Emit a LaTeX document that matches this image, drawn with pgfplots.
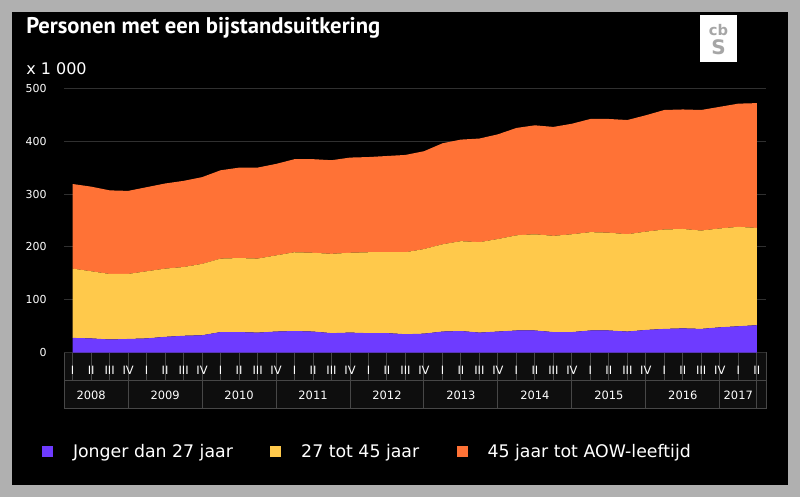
\documentclass[border=0pt]{standalone}
\usepackage{fontspec}
\setmainfont{DejaVu Sans}
\newfontfamily\titlefont{PT Sans}
\usepackage{pgfplots}
\usepackage{pgfplotstable}
\pgfplotsset{compat=1.18}
\definecolor{cpurple}{HTML}{6E3BFF}
\definecolor{cyellow}{HTML}{FFC94B}
\definecolor{corange}{HTML}{FF7236}
\definecolor{framegray}{HTML}{B0B0B0}
\definecolor{gridc}{HTML}{303030}
\definecolor{boxline}{HTML}{474747}
\definecolor{boxfill}{HTML}{0E0E0E}

\pgfplotstableread{
k purple yellow orange
0 28 131 160
1 27 127 160
2 25 124 158
3 26 123 157
4 27 127 159
5 30 129 161
6 32 130 163
7 33 135 164
8 39 139 167
9 39 140 171
10 38 140 172
11 40 144 173
12 41 149 176
13 40 149 177
14 37 150 177
15 38 151 180
16 37 153 180
17 37 153 182
18 35 155 184
19 36 160 185
20 40 165 191
21 41 170 192
22 38 171 196
23 40 175 198
24 42 180 203
25 42 182 206
26 39 182 206
27 39 185 209
28 42 186 214
29 42 185 215
30 40 184 216
31 43 186 220
32 45 188 226
33 46 188 226
34 45 186 228
35 48 187 230
36 50 188 233
37 52 184 236
}\datatable

\begin{document}
\begin{tikzpicture}
\begin{scope}[x=0.75pt,y=-0.75pt]
\fill[framegray] (0,0) rectangle (800,497);
\fill[black] (12,12) rectangle (788,485);
\node[anchor=base west, inner sep=0pt, text=white, font=\titlefont\bfseries\fontsize{17}{20}\selectfont] at (26,33.3) {Personen met een bijstandsuitkering};
\node[anchor=base west, inner sep=0pt, text=white, font=\fontsize{12}{14}\selectfont] at (26,74) {x 1 000};
\fill[white] (700,15) rectangle (737,61.7);
\node[text=gray!70, font=\bfseries\fontsize{11}{11}\selectfont, inner sep=0pt] at (718.5,30) {cb};
\node[text=gray!70, font=\bfseries\fontsize{15}{15}\selectfont, inner sep=0pt] at (718.5,47) {S};
% category box
\fill[boxfill] (64,352.7) rectangle (766,408.3);
\foreach \k in {0,...,37} {\draw[boxline, line width=0.75pt] ({72.69+\k*18.488},352.7) -- ++(0,28);}
\foreach \k in {3,7,11,15,19,23,27,31,35,37} {\draw[boxline, line width=0.75pt] ({72.69+\k*18.488},380.7) -- ++(0,27.6);}
\draw[boxline, line width=0.75pt] (64,352.7) rectangle (766,408.3);
\draw[boxline, line width=0.75pt] (64,380.7) -- (766,380.7);
\end{scope}
\begin{axis}[
  at={(48pt,-264.525pt)}, anchor=south west,
  scale only axis, width=526.5pt, height=198.3pt,
  xmin=-0.47, xmax=37.5, ymin=0, ymax=500,
  stack plots=y, clip=false,
  axis line style={draw=none},
  major tick length=0pt,
  ytick={0,100,...,500},
  yticklabels={0,100,200,300,400,500},
  ymajorgrids,
  grid style={gridc, line width=0.75pt},
  yticklabel style={text=white, font=\fontsize{8.25}{10}\selectfont, anchor=east, inner sep=0pt, xshift=-12.75pt},
  xtick={0,...,37},
  xticklabels={I,II,III,IV,I,II,III,IV,I,II,III,IV,I,II,III,IV,I,II,III,IV,I,II,III,IV,I,II,III,IV,I,II,III,IV,I,II,III,IV,I,II},
  xticklabel style={text=white, font=\fontsize{8.6}{10}\selectfont, anchor=base, inner sep=0pt, yshift=-16.7pt},
  extra x ticks={1,5,9,13,17,21,25,29,33,36},
  extra x tick labels={2008,2009,2010,2011,2012,2013,2014,2015,2016,2017},
  extra x tick style={grid=none, xticklabel style={yshift=-18.3pt}},
  legend columns=3,
  legend style={at={(-0.0313,-0.3737)}, anchor=west, draw=none, fill=none, text=white,
    font=\fontsize{13}{15}\selectfont, inner sep=0pt, outer sep=0pt, nodes={inner sep=0pt},
    /tikz/every odd column/.append style={column sep=15pt},
    /tikz/every even column/.append style={column sep=28pt}},
  legend image code/.code={\fill[#1] (0pt,-4.125pt) rectangle (8.25pt,4.125pt);},
]
\addplot[fill=cpurple, draw=none] table[x=k, y=purple] {\datatable} \closedcycle;
\addlegendentry{Jonger dan 27 jaar}
\addplot[fill=cyellow, draw=none] table[x=k, y=yellow] {\datatable} \closedcycle;
\addlegendentry{27 tot 45 jaar}
\addplot[fill=corange, draw=none] table[x=k, y=orange] {\datatable} \closedcycle;
\addlegendentry{45 jaar tot AOW-leeftijd}
\end{axis}
\end{tikzpicture}
\end{document}
